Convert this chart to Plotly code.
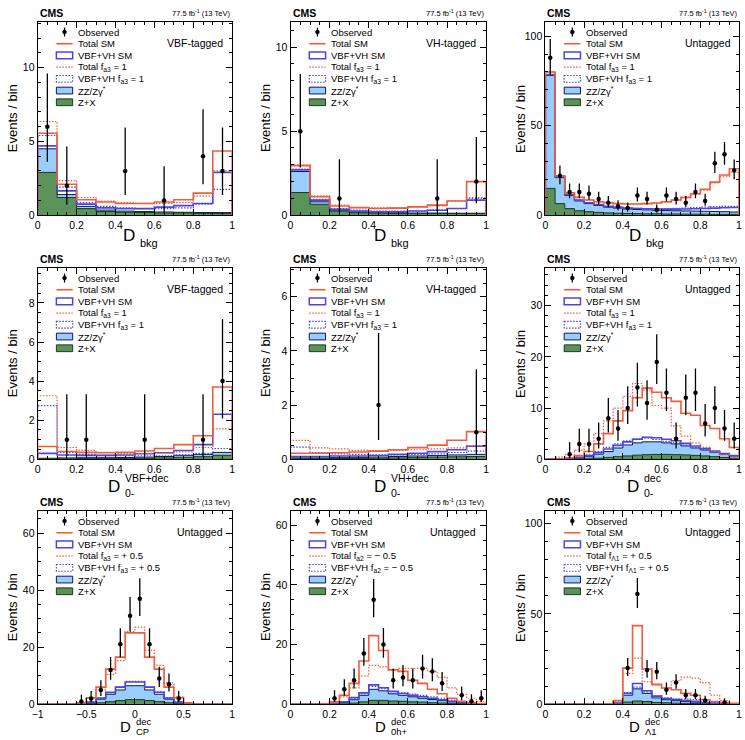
import numpy as np
import plotly.graph_objects as go

# ---------------- data ----------------
# Panel 1: VBF-tagged, D_bkg (10 bins 0..1)
p1_zx = [2.9, 1.2, 0.45, 0.25, 0.2, 0.18, 0.15, 0.15, 0.12, 0.12]
p1_zz = [4.5, 1.4, 0.6, 0.35, 0.28, 0.25, 0.22, 0.2, 0.18, 0.18]
p1_vbf = [4.7, 1.65, 0.75, 0.5, 0.45, 0.45, 0.55, 0.65, 0.8, 2.9]
p1_tot = [5.55, 2.1, 1.05, 0.9, 0.8, 0.8, 0.9, 1.05, 1.5, 4.35]
p1_vbf_alt = [5.4, 1.9, 0.85, 0.6, 0.5, 0.45, 0.45, 0.5, 0.75, 1.75]
p1_tot_alt = [6.35, 2.35, 1.2, 0.95, 0.85, 0.8, 0.8, 0.85, 1.3, 3.0]
p1_obs = [6, 2, 0, 0, 3, 0, 1, 0, 4, 3]

# Panel 2: VH-tagged, D_bkg
p2_zx = [1.35, 0.65, 0.25, 0.15, 0.12, 0.1, 0.1, 0.1, 0.1, 0.1]
p2_zz = [2.6, 0.8, 0.3, 0.2, 0.15, 0.15, 0.13, 0.13, 0.12, 0.12]
p2_vbf = [2.7, 0.9, 0.35, 0.25, 0.2, 0.2, 0.25, 0.3, 0.4, 0.9]
p2_tot = [2.95, 1.1, 0.55, 0.45, 0.4, 0.42, 0.5, 0.6, 0.85, 2.0]
p2_vbf_alt = [2.75, 0.95, 0.4, 0.3, 0.25, 0.25, 0.25, 0.3, 0.4, 1.0]
p2_tot_alt = [3.0, 1.15, 0.6, 0.45, 0.45, 0.45, 0.5, 0.55, 0.85, 1.05]
p2_obs = [5, 0, 1, 0, 0, 0, 0, 1, 0, 2]

# Panel 3: Untagged, D_bkg (20 bins)
p3_zx = [15, 6.5, 3.7, 2.5, 2.0, 1.6, 1.3, 1.1, 1.0, 0.9, 0.8, 0.8, 0.7, 0.7, 0.6, 0.6, 0.6, 0.5, 0.5, 0.5]
p3_zz = [78, 21, 11, 8, 6.5, 5.5, 4.5, 4.0, 3.5, 3.2, 3.0, 2.8, 2.6, 2.5, 2.4, 2.3, 2.2, 2.1, 2.0, 1.8]
p3_vbf = [78.5, 21.5, 11.5, 8.5, 7, 6, 5, 4.5, 4.0, 3.8, 3.6, 3.5, 3.4, 3.4, 3.5, 3.6, 3.8, 4.0, 4.2, 4.3]
p3_tot = [80, 22, 12.5, 10, 8.5, 7.5, 7, 6.5, 6.3, 6.3, 6.5, 6.8, 7.5, 8.5, 10, 12, 14.5, 18.5, 22.5, 26]
p3_vbf_alt = [78.5, 21.5, 11.5, 8.5, 7, 6, 5, 4.5, 4.0, 3.8, 3.7, 3.7, 3.7, 3.8, 4.0, 4.2, 4.5, 4.8, 5.0, 5.0]
p3_tot_alt = [80, 22, 12.5, 10, 8.5, 7.5, 7, 6.5, 6.3, 6.3, 6.5, 6.8, 7.3, 8.3, 9.8, 11.7, 14.0, 18.0, 21.5, 24]
p3_obs = [88, 22, 13, 13, 12, 9, 7, 5, 4, 11, 9, 3, 11, 9, 7, 13, 8, 29, 34, 25]

# Panel 4: VBF-tagged, D_0-^{VBF+dec}
p4_zx = [0.02, 0.02, 0.03, 0.03, 0.03, 0.05, 0.07, 0.1, 0.13, 0.2]
p4_zz = [0.05, 0.07, 0.08, 0.08, 0.09, 0.11, 0.14, 0.2, 0.25, 0.35]
p4_vbf = [0.3, 0.22, 0.2, 0.2, 0.22, 0.28, 0.33, 0.45, 0.75, 2.3]
p4_tot = [0.65, 0.4, 0.35, 0.33, 0.35, 0.42, 0.55, 0.75, 1.2, 3.7]
p4_vbf_alt = [2.75, 0.35, 0.25, 0.2, 0.18, 0.18, 0.18, 0.22, 0.3, 0.55]
p4_tot_alt = [3.25, 0.6, 0.45, 0.35, 0.3, 0.3, 0.32, 0.38, 0.6, 1.55]
p4_obs = [0, 1, 1, 0, 0, 1, 0, 0, 1, 4]

# Panel 5: VH-tagged, D_0-^{VH+dec}
p5_zx = [0.02, 0.02, 0.03, 0.03, 0.04, 0.05, 0.06, 0.08, 0.09, 0.1]
p5_zz = [0.05, 0.05, 0.06, 0.07, 0.08, 0.1, 0.12, 0.14, 0.16, 0.18]
p5_vbf = [0.1, 0.1, 0.12, 0.12, 0.14, 0.18, 0.22, 0.28, 0.35, 0.48]
p5_tot = [0.22, 0.22, 0.24, 0.27, 0.3, 0.35, 0.43, 0.52, 0.7, 1.02]
p5_vbf_alt = [0.45, 0.25, 0.2, 0.18, 0.16, 0.16, 0.17, 0.2, 0.25, 0.3]
p5_tot_alt = [0.7, 0.42, 0.38, 0.33, 0.32, 0.33, 0.35, 0.38, 0.42, 0.5]
p5_obs = [0, 0, 0, 0, 2, 0, 0, 0, 0, 1]

# Panel 6: Untagged, D_0-^{dec} (20 bins)
p6_zx = [0, 0, 0.02, 0.05, 0.1, 0.2, 0.35, 0.5, 0.65, 0.8, 0.9, 0.95, 0.95, 0.9, 0.85, 0.75, 0.65, 0.5, 0.35, 0.2]
p6_zz = [0, 0, 0.1, 0.2, 0.5, 1.0, 1.5, 2.2, 2.8, 3.2, 3.4, 3.4, 3.2, 3.0, 2.6, 2.2, 1.8, 1.4, 1.0, 0.6]
p6_vbf = [0, 0.02, 0.15, 0.35, 0.7, 1.3, 2.0, 2.7, 3.4, 3.9, 4.3, 4.2, 3.9, 3.6, 3.1, 2.6, 2.1, 1.6, 1.1, 0.7]
p6_tot = [0, 0.05, 0.3, 0.7, 1.5, 3.0, 5.0, 7.5, 9.5, 12, 13.9, 13.1, 12, 11.3, 9, 8.6, 6.6, 6, 4, 2.3]
p6_vbf_alt = [0, 0.05, 0.2, 0.45, 0.85, 1.5, 2.3, 3.0, 3.6, 4.0, 4.1, 3.9, 3.5, 3.2, 2.8, 2.3, 1.9, 1.4, 1.0, 0.6]
p6_tot_alt = [0, 0.4, 0.9, 1.8, 3.0, 5.0, 7.5, 10, 12.3, 14.8, 13.5, 10.5, 10, 6.5, 4.5, 3.2, 2.3, 1.6, 0.9, 0.5]
p6_obs = [0, 0, 1, 3, 3, 4, 8, 6, 10, 14, 11, 19, 13, 4, 12, 13, 7, 10, 6, 4]

# Panel 7: Untagged, D_CP^{dec} (20 bins -1..1)
p7_zx = [0, 0, 0, 0, 0.05, 0.2, 0.5, 0.9, 1.3, 1.6, 1.6, 1.3, 0.9, 0.5, 0.2, 0.05, 0, 0, 0, 0]
p7_zz = [0, 0, 0, 0, 0.1, 0.5, 1.8, 3.5, 5.0, 6.5, 6.5, 5.0, 3.5, 1.8, 0.5, 0.1, 0, 0, 0, 0]
p7_vbf = [0, 0, 0, 0, 0.15, 0.8, 2.2, 4.2, 6.0, 7.8, 7.8, 6.0, 4.2, 2.2, 0.8, 0.15, 0, 0, 0, 0]
p7_tot = [0, 0, 0, 0, 0.5, 2.3, 6, 12.3, 16.5, 25, 25, 16.5, 12.3, 6, 2.3, 0.5, 0, 0, 0, 0]
p7_vbf_alt = [0, 0, 0, 0, 0.15, 0.8, 2.1, 4.0, 6.1, 8.0, 8.0, 6.1, 4.3, 2.3, 0.8, 0.15, 0, 0, 0, 0]
p7_tot_alt = [0, 0, 0, 0, 0.4, 2.0, 5.0, 10.5, 15.3, 25.5, 27, 19, 13.6, 7.5, 2.6, 0.5, 0, 0, 0, 0]
p7_obs = [0, 0, 0, 0, 1, 2, 5, 12, 21, 31, 37, 21, 9, 7, 2, 0, 0, 0, 0, 0]

# Panel 8: Untagged, D_0h+^{dec}
p8_zx = [0, 0, 0, 0.02, 0.05, 0.15, 0.4, 0.8, 1.3, 1.3, 1.1, 1.0, 0.8, 0.7, 0.5, 0.4, 0.3, 0.2, 0.1, 0.05]
p8_zz = [0, 0, 0, 0.05, 0.2, 0.6, 1.5, 3.0, 5.0, 4.5, 3.5, 3.0, 2.5, 2.0, 1.6, 1.2, 0.8, 0.5, 0.3, 0.1]
p8_vbf = [0, 0, 0, 0.1, 0.3, 0.8, 2.2, 3.8, 6.5, 5.5, 4.3, 3.6, 3.0, 2.5, 2.0, 1.5, 1.0, 0.6, 0.3, 0.15]
p8_tot = [0, 0, 0, 0.1, 0.8, 3, 7, 14.5, 23, 18, 11.5, 11, 8, 7, 5, 3.5, 2, 1, 0.5, 0.2]
p8_vbf_alt = [0, 0, 0, 0.1, 0.3, 0.7, 1.8, 3.5, 6.0, 5.2, 4.2, 3.8, 3.4, 3.0, 2.5, 2.0, 1.4, 0.9, 0.5, 0.2]
p8_tot_alt = [0, 0, 0, 0.3, 1.0, 2.5, 5.5, 9.5, 13, 12.5, 11.5, 12, 12, 12, 11, 9, 5.5, 3.3, 2.0, 1.0]
p8_obs = [0, 0, 0, 0, 2, 5, 8, 17, 35, 20, 8, 9, 8, 12, 11, 7, 0, 3, 1, 2]

# Panel 9: Untagged, D_Λ1^{dec}
p9_zx = [0, 0, 0, 0, 0, 0, 0.05, 0.2, 1.2, 1.8, 1.5, 1.0, 0.8, 0.6, 0.5, 0.4, 0.25, 0.15, 0.1, 0.05]
p9_zz = [0, 0, 0, 0, 0, 0, 0.1, 0.5, 5, 8.5, 6, 3.5, 2.5, 2.0, 1.6, 1.2, 0.7, 0.4, 0.2, 0.1]
p9_vbf = [0, 0, 0, 0, 0, 0, 0.15, 0.6, 6, 11.5, 7.5, 4.5, 3.2, 2.6, 2.1, 1.6, 1.0, 0.6, 0.3, 0.15]
p9_tot = [0, 0, 0, 0, 0, 0, 0.3, 2, 20, 43.5, 19.5, 11, 9, 8, 6, 5, 2.5, 1.5, 1, 0.5]
p9_vbf_alt = [0, 0, 0, 0, 0, 0, 0.15, 0.6, 6.5, 9.5, 6.8, 4.5, 3.5, 3.0, 2.8, 2.5, 1.8, 1.0, 0.4, 0.15]
p9_tot_alt = [0, 0, 0, 0, 0, 0, 0.2, 1.5, 17, 25.5, 12.5, 10.5, 9, 13, 15, 14.5, 12, 5, 2, 0.5]
p9_obs = [0, 0, 0, 0, 0, 0, 0, 0, 20, 61, 19, 18, 8, 12, 5, 5, 2, 0, 1, 0]

# labels
categories = ["VBF-tagged", "VH-tagged", "Untagged", "VBF-tagged", "VH-tagged",
              "Untagged", "Untagged", "Untagged", "Untagged"]
alt_total_labels = ["Total f<sub>a3</sub> = 1"] * 6 + [
    "Total f<sub>a3</sub> = + 0.5", "Total f<sub>a2</sub> = − 0.5", "Total f<sub>Λ1</sub> = + 0.5"]
alt_vbf_labels = ["VBF+VH f<sub>a3</sub> = 1"] * 6 + [
    "VBF+VH f<sub>a3</sub> = + 0.5", "VBF+VH f<sub>a2</sub> = − 0.5", "VBF+VH f<sub>Λ1</sub> = + 0.5"]
xtitle_sub = ["bkg", "bkg", "bkg", "0-", "0-", "0-", "CP", "0h+", "Λ1"]
xtitle_sup = ["", "", "", "VBF+dec", "VH+dec", "dec", "dec", "dec", "dec"]

# ---------------- styling ----------------
W, H = 745, 740
FONT = "Liberation Sans"
C_TOT = "#F25C3C"
C_VBF = "#4848E0"
C_ZZ = "#99CCFF"
C_ZZ_LINE = "#15154A"
C_ZX = "#5A925A"
C_ZX_LINE = "#1C3A1C"
DOT = "1.5px,1.5px"

col_px = [(32, 229), (288, 486), (546, 742)]
row_px = [(22, 217), (270, 463), (515, 710)]

cfg = [
    # lo, hi, nbins, ymax, ydtick, yminor, xdtick, xminor, title x-offset
    (0, 1, 10, 13.1, 5, 1, 0.2, 0.05, 2),
    (0, 1, 10, 11.5, 5, 1, 0.2, 0.05, 0),
    (0, 1, 20, 108, 50, 10, 0.2, 0.05, 1),
    (0, 1, 10, 9.8, 2, 0.5, 0.2, 0.05, -13),
    (0, 1, 10, 7.07, 2, 0.5, 0.2, 0.05, 0),
    (0, 1, 20, 37.4, 10, 2, 0.2, 0.05, -1),
    (-1, 1, 20, 67.8, 20, 5, 0.5, 0.1, -2),
    (0, 1, 20, 64.8, 20, 5, 0.2, 0.05, 0),
    (0, 1, 20, 107, 50, 10, 0.2, 0.05, 0),
]
# x-title vertical placement per row: (D shift, sub shift, sup shift, D size, script size)
title_rows = [(-20.5, -27.5, 0, 17, 11), (-27, -34, -19, 17, 10.5), (-22, -27.5, -17, 15, 9.5)]

series = [
    (p1_zx, p1_zz, p1_vbf, p1_tot, p1_vbf_alt, p1_tot_alt, p1_obs),
    (p2_zx, p2_zz, p2_vbf, p2_tot, p2_vbf_alt, p2_tot_alt, p2_obs),
    (p3_zx, p3_zz, p3_vbf, p3_tot, p3_vbf_alt, p3_tot_alt, p3_obs),
    (p4_zx, p4_zz, p4_vbf, p4_tot, p4_vbf_alt, p4_tot_alt, p4_obs),
    (p5_zx, p5_zz, p5_vbf, p5_tot, p5_vbf_alt, p5_tot_alt, p5_obs),
    (p6_zx, p6_zz, p6_vbf, p6_tot, p6_vbf_alt, p6_tot_alt, p6_obs),
    (p7_zx, p7_zz, p7_vbf, p7_tot, p7_vbf_alt, p7_tot_alt, p7_obs),
    (p8_zx, p8_zz, p8_vbf, p8_tot, p8_vbf_alt, p8_tot_alt, p8_obs),
    (p9_zx, p9_zz, p9_vbf, p9_tot, p9_vbf_alt, p9_tot_alt, p9_obs),
]

fig = go.Figure()
shapes = []
annotations = []
layout_axes = {}


def step(edges, vals):
    x = [edges[0]] + list(edges)
    y = [0.0] + list(vals) + [0.0]
    return x, y


for i in range(9):
    r, c = divmod(i, 3)
    sfx = "" if i == 0 else str(i + 1)
    xn, yn = "x" + sfx, "y" + sfx
    lo, hi, nb, ymax, ydt, ymdt, xdt, xmdt, toff = cfg[i]
    zx, zz, vbf, tot, vbfa, tota, obs = series[i]
    edges = np.linspace(lo, hi, nb + 1)
    centers = 0.5 * (edges[:-1] + edges[1:])

    def add_hist(vals, color, width, dash=None, fillcolor=None):
        x, y = step(edges, vals)
        fig.add_trace(go.Scatter(
            x=x, y=y, xaxis=xn, yaxis=yn, mode="lines",
            line=dict(color=color, width=width, dash=dash, shape="hv"),
            fill="tozeroy" if fillcolor else None, fillcolor=fillcolor,
            showlegend=False, hoverinfo="skip"))

    add_hist(zz, C_ZZ_LINE, 1.0, fillcolor=C_ZZ)
    add_hist(zx, C_ZX_LINE, 1.0, fillcolor=C_ZX)
    add_hist(vbfa, C_VBF, 1.2, dash=DOT)
    add_hist(vbf, C_VBF, 1.6)
    add_hist(tota, C_TOT, 1.2, dash=DOT)
    add_hist(tot, C_TOT, 1.6)

    n = np.array(obs, dtype=float)
    m = n > 0
    nn = n[m]
    up = nn + np.sqrt(nn + 0.75) + 1.0
    lw = nn * (1 - 1 / (9 * nn) - 1 / (3 * np.sqrt(nn))) ** 3
    fig.add_trace(go.Scatter(
        x=centers[m], y=nn, xaxis=xn, yaxis=yn, mode="markers",
        marker=dict(color="black", size=4.5),
        error_y=dict(type="data", symmetric=False, array=up - nn, arrayminus=nn - lw,
                     color="black", thickness=1.3, width=0),
        showlegend=False, hoverinfo="skip"))

    x0p, x1p = col_px[c]
    y0p, y1p = row_px[r]
    common = dict(showline=True, linecolor="black", linewidth=1, mirror="allticks",
                  ticks="inside", ticklen=6, tickcolor="black", tickwidth=1,
                  showgrid=False, zeroline=False,
                  tickfont=dict(family=FONT, size=10.5, color="black"))
    layout_axes["xaxis" + sfx] = dict(
        domain=[x0p / W, x1p / W], range=[lo, hi], anchor=yn,
        tick0=lo, dtick=xdt, ticklabelstandoff=0,
        minor=dict(ticks="inside", ticklen=3, dtick=xmdt, tick0=lo, tickcolor="black", showgrid=False),
        **common)
    layout_axes["yaxis" + sfx] = dict(
        domain=[1 - y1p / H, 1 - y0p / H], range=[0, ymax], anchor=xn,
        tick0=0, dtick=ydt,
        minor=dict(ticks="inside", ticklen=3, dtick=ymdt, tick0=0, tickcolor="black", showgrid=False),
        **common)

    xd, yd = xn + " domain", yn + " domain"
    pw, ph = x1p - x0p, y1p - y0p

    def fx(px):
        return px / pw

    def fy(py):
        return 1 - py / ph

    # header texts
    annotations.append(dict(xref=xd, yref=yd, x=0, y=1, xanchor="left", yanchor="bottom",
                            yshift=1, showarrow=False, text="<b>CMS</b>",
                            font=dict(family=FONT, size=10.5, color="black")))
    annotations.append(dict(xref=xd, yref=yd, x=1, y=1, xanchor="right", yanchor="bottom",
                            yshift=2, showarrow=False, text="77.5 fb<sup>-1</sup> (13 TeV)",
                            font=dict(family=FONT, size=7.5, color="black")))
    # category
    annotations.append(dict(xref=xd, yref=yd, x=fx(190), y=fy(21), xanchor="right",
                            yanchor="middle", showarrow=False, text=categories[i],
                            font=dict(family=FONT, size=10.5, color="black")))
    # y title
    annotations.append(dict(xref=xd, yref=yd, x=0, y=0.5, xshift=-25, textangle=-90,
                            xanchor="center", yanchor="middle", showarrow=False,
                            text="Events / bin", font=dict(family=FONT, size=13, color="black")))
    # x title (D with stacked sub/superscripts)
    d_dy, sub_dy, sup_dy, d_size, s_size = title_rows[r]
    annotations.append(dict(xref=xd, yref=yd, x=0.5, y=0, xshift=toff, yshift=d_dy,
                            xanchor="right", yanchor="middle", showarrow=False, text="D",
                            font=dict(family=FONT, size=d_size, color="black")))
    annotations.append(dict(xref=xd, yref=yd, x=0.5, y=0, xshift=toff + 1, yshift=sub_dy,
                            xanchor="left", yanchor="middle", showarrow=False, text=xtitle_sub[i],
                            font=dict(family=FONT, size=s_size, color="black")))
    if xtitle_sup[i]:
        annotations.append(dict(xref=xd, yref=yd, x=0.5, y=0, xshift=toff + 1, yshift=sup_dy,
                                xanchor="left", yanchor="middle", showarrow=False,
                                text=xtitle_sup[i],
                                font=dict(family=FONT, size=s_size, color="black")))

    # legend
    rows = [10.3 + 11.8 * k for k in range(7)]
    bx0, bx1, bh = 19, 35.5, 3.4
    bxc = 0.5 * (bx0 + bx1)
    labels = ["Observed", "Total SM", "VBF+VH SM", alt_total_labels[i], alt_vbf_labels[i],
              "ZZ/Zγ<sup>*</sup>", "Z+X"]
    for k, lab in enumerate(labels):
        annotations.append(dict(xref=xd, yref=yd, x=fx(39), y=fy(rows[k]), xanchor="left",
                                yanchor="middle", showarrow=False, text=lab,
                                font=dict(family=FONT, size=9.5, color="black")))
    # observed symbol
    shapes.append(dict(type="line", xref=xd, yref=yd, x0=fx(bxc), x1=fx(bxc),
                       y0=fy(rows[0] - 4.5), y1=fy(rows[0] + 4.5),
                       line=dict(color="black", width=1.2)))
    shapes.append(dict(type="circle", xref=xd, yref=yd, x0=fx(bxc - 2), x1=fx(bxc + 2),
                       y0=fy(rows[0] - 2), y1=fy(rows[0] + 2),
                       line=dict(color="black", width=0.5), fillcolor="black"))
    # total SM line
    shapes.append(dict(type="line", xref=xd, yref=yd, x0=fx(bx0), x1=fx(bx1),
                       y0=fy(rows[1]), y1=fy(rows[1]), line=dict(color=C_TOT, width=1.6)))
    # VBF+VH SM box
    shapes.append(dict(type="rect", xref=xd, yref=yd, x0=fx(bx0), x1=fx(bx1),
                       y0=fy(rows[2] - bh), y1=fy(rows[2] + bh), line=dict(color=C_VBF, width=1.5)))
    # total alt line
    shapes.append(dict(type="line", xref=xd, yref=yd, x0=fx(bx0), x1=fx(bx1),
                       y0=fy(rows[3]), y1=fy(rows[3]),
                       line=dict(color=C_TOT, width=1.2, dash=DOT)))
    # VBF alt box
    shapes.append(dict(type="rect", xref=xd, yref=yd, x0=fx(bx0), x1=fx(bx1),
                       y0=fy(rows[4] - bh), y1=fy(rows[4] + bh),
                       line=dict(color=C_VBF, width=1.2, dash=DOT)))
    # ZZ box
    shapes.append(dict(type="rect", xref=xd, yref=yd, x0=fx(bx0), x1=fx(bx1),
                       y0=fy(rows[5] - bh), y1=fy(rows[5] + bh),
                       line=dict(color=C_ZZ_LINE, width=1), fillcolor=C_ZZ))
    # Z+X box
    shapes.append(dict(type="rect", xref=xd, yref=yd, x0=fx(bx0), x1=fx(bx1),
                       y0=fy(rows[6] - bh), y1=fy(rows[6] + bh),
                       line=dict(color=C_ZX_LINE, width=1), fillcolor=C_ZX))

fig.update_layout(
    width=W, height=H, margin=dict(l=0, r=0, t=0, b=0),
    paper_bgcolor="white", plot_bgcolor="white",
    font=dict(family=FONT, color="black"),
    showlegend=False, shapes=shapes, annotations=annotations,
    **layout_axes)

fig.write_html("out.html")
